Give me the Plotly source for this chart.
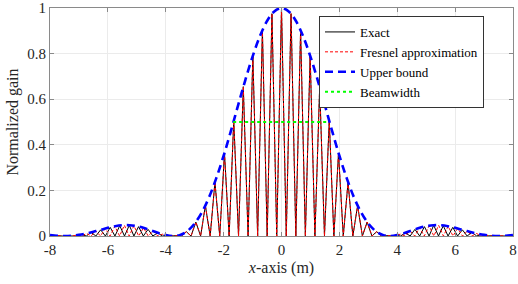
import plotly.graph_objects as go

# ---- data (positive half; pattern is symmetric) ----
# main-lobe fringe peaks (Exact and Fresnel coincide here)
main_peak_x = [0.0, 0.33, 0.66, 0.99, 1.32, 1.65, 1.97, 2.30, 2.63, 2.96, 3.29, 3.62]
main_peak_y = [1.0, 0.975, 0.903, 0.792, 0.655, 0.507, 0.363, 0.236, 0.133, 0.061, 0.019, 0.002]

# side-lobe fringe peaks, Exact
side_exact_x = [3.95, 4.28, 4.61, 4.94, 5.26, 5.59, 5.92, 6.25, 6.58, 6.91, 7.24, 7.57, 7.90]
side_exact_y = [0.003, 0.014, 0.029, 0.041, 0.047, 0.045, 0.038, 0.027, 0.016, 0.007, 0.001, 0.0, 0.003]

# side-lobe fringe peaks, Fresnel approximation (shifted half a fringe)
side_fresnel_x = [4.11, 4.44, 4.77, 5.10, 5.43, 5.76, 6.09, 6.42, 6.74, 7.07, 7.40, 7.73]
side_fresnel_y = [0.008, 0.022, 0.036, 0.045, 0.047, 0.043, 0.033, 0.022, 0.011, 0.004, 0.0, 0.001]

# upper bound envelope
env_x = [0.0, 0.25, 0.5, 0.75, 1.0, 1.25, 1.5, 1.75, 2.0, 2.25, 2.5, 2.75, 3.0, 3.25, 3.5, 3.75,
         4.0, 4.25, 4.5, 4.75, 5.0, 5.25, 5.5, 5.75, 6.0, 6.25, 6.5, 6.75, 7.0, 7.25, 7.5, 7.75, 8.0]
env_y = [1.0, 0.985, 0.943, 0.875, 0.787, 0.684, 0.573, 0.460, 0.352, 0.255, 0.171, 0.104, 0.055,
         0.022, 0.005, 0.0, 0.004, 0.013, 0.024, 0.035, 0.043, 0.047, 0.047, 0.043, 0.036, 0.027,
         0.019, 0.011, 0.005, 0.001, 0.0, 0.001, 0.004]

# beamwidth marker
beam_x = [-1.67, 1.63]
beam_y = [0.5, 0.5]

x_ticks = [-8, -6, -4, -2, 0, 2, 4, 6, 8]
y_ticks = [0, 0.2, 0.4, 0.6, 0.8, 1]
y_tick_labels = ["0", "0.2", "0.4", "0.6", "0.8", "1"]


def mirror(xs, ys):
    pts = {}
    for x, y in zip(xs, ys):
        pts[round(x, 4)] = y
        pts[round(-x, 4)] = y
    keys = sorted(pts)
    return keys, [pts[k] for k in keys]


def zigzag(px, py):
    """peaks joined through zero-valued troughs midway between them"""
    xs, ys = [], []
    for i in range(len(px)):
        if i > 0:
            xs.append((px[i - 1] + px[i]) / 2)
            ys.append(0.0)
        xs.append(px[i])
        ys.append(py[i])
    return xs, ys


ex_x, ex_y = mirror(main_peak_x + side_exact_x, main_peak_y + side_exact_y)
fr_x, fr_y = mirror(main_peak_x + side_fresnel_x, main_peak_y + side_fresnel_y)
ex_x, ex_y = zigzag(ex_x, ex_y)
fr_x, fr_y = zigzag(fr_x, fr_y)
en_x, en_y = mirror(env_x, env_y)

FONT = "Liberation Serif"

fig = go.Figure()
fig.add_trace(go.Scatter(x=ex_x, y=ex_y, mode="lines", name="Exact",
                         line=dict(color="black", width=1)))
fig.add_trace(go.Scatter(x=fr_x, y=fr_y, mode="lines", name="Fresnel approximation",
                         line=dict(color="#ff0000", width=1, dash="3px,2px")))
fig.add_trace(go.Scatter(x=en_x, y=en_y, mode="lines", name="Upper bound",
                         line=dict(color="#0000ff", width=2.6, dash="8px,5px", shape="spline")))
fig.add_trace(go.Scatter(x=beam_x, y=beam_y, mode="lines", name="Beamwidth",
                         line=dict(color="#00ff00", width=2, dash="dot")))

axis_common = dict(showline=True, linecolor="#8a8a8a", linewidth=1, mirror="ticks",
                   ticks="inside", ticklen=4, tickcolor="#8a8a8a", automargin=False,
                   showgrid=True, gridcolor="#ebebeb", gridwidth=1, zeroline=False,
                   tickfont=dict(family=FONT, size=15, color="#262626"))

fig.update_xaxes(range=[-8, 8], tickvals=x_ticks, ticktext=[str(v) for v in x_ticks],
                 title=dict(text="<i>x</i>-axis (m)", font=dict(family=FONT, size=16, color="#262626"),
                            standoff=4),
                 **axis_common)
fig.update_yaxes(range=[0, 1], tickvals=y_ticks, ticktext=y_tick_labels,
                 title=dict(text="Normalized gain", font=dict(family=FONT, size=16, color="#262626"),
                            standoff=4),
                 **axis_common)

fig.update_layout(
    width=518, height=284,
    font=dict(family=FONT),
    margin=dict(l=50, r=5, t=8, b=48, autoexpand=False),
    plot_bgcolor="white", paper_bgcolor="white",
    showlegend=True,
    legend=dict(x=0.581, y=0.965, xanchor="left", yanchor="top",
                bgcolor="white", bordercolor="#333333", borderwidth=1,
                font=dict(family=FONT, size=13, color="black"),
                tracegroupgap=0, itemwidth=30, entrywidth=180),
)

fig.write_html("out.html", config={"displayModeBar": False},
               post_script="document.body.style.margin='0';document.body.style.overflow='hidden';")
